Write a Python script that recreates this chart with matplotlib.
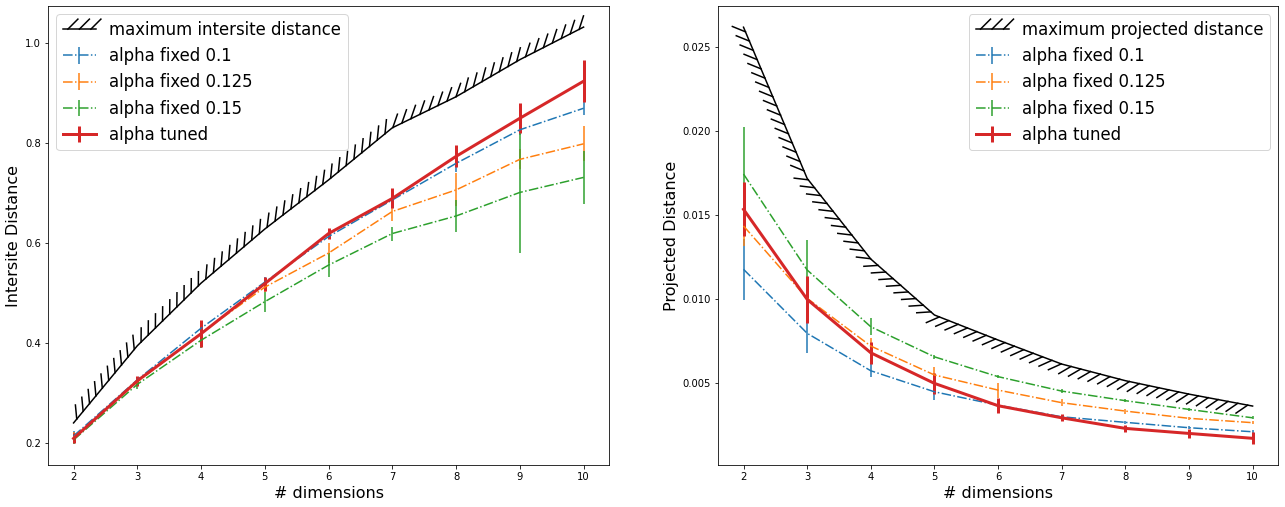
import numpy as np
import matplotlib
matplotlib.use('Agg')
from matplotlib import pyplot as plt
from matplotlib import patheffects

dims = [2, 3, 4, 5, 6, 7, 8, 9, 10]

# left: intersite distance
max_inter = [0.241, 0.395, 0.52, 0.628, 0.726, 0.83, 0.892, 0.966, 1.031]
inter_01 = [0.215, 0.327, 0.43, 0.522, 0.613, 0.686, 0.759, 0.826, 0.869]
inter_01_err = [0.01, 0.005, 0.01, 0.01, 0.005, 0.005, 0.017, 0.01, 0.013]
inter_0125 = [0.212, 0.323, 0.42, 0.512, 0.58, 0.663, 0.706, 0.767, 0.798]
inter_0125_err = [0.01, 0.005, 0.015, 0.01, 0.02, 0.019, 0.033, 0.02, 0.035]
inter_015 = [0.207, 0.318, 0.406, 0.483, 0.556, 0.619, 0.654, 0.701, 0.731]
inter_015_err = [0.008, 0.01, 0.015, 0.02, 0.024, 0.014, 0.032, 0.12, 0.053]
inter_tuned = [0.21, 0.325, 0.419, 0.519, 0.619, 0.689, 0.773, 0.849, 0.923]
inter_tuned_err = [0.01, 0.01, 0.027, 0.014, 0.011, 0.02, 0.022, 0.03, 0.042]

# right: projected distance
max_proj = [0.0262, 0.0172, 0.0124, 0.00907, 0.00758, 0.00615, 0.00516, 0.00436, 0.00365]
proj_01 = [0.01179, 0.00798, 0.00575, 0.0045, 0.0037, 0.00301, 0.00268, 0.00236, 0.00212]
proj_01_err = [0.0018, 0.0012, 0.0004, 0.0005, 0.0001, 0.0001, 0.0001, 0.0001, 0.0001]
proj_0125 = [0.01437, 0.01006, 0.00722, 0.0055, 0.0046, 0.00385, 0.00335, 0.00292, 0.00266]
proj_0125_err = [0.0012, 0.001, 0.0005, 0.0005, 0.00045, 0.0002, 0.00015, 0.0001, 0.0001]
proj_015 = [0.01746, 0.01175, 0.00837, 0.00658, 0.0054, 0.00454, 0.00397, 0.00345, 0.00295]
proj_015_err = [0.0028, 0.0018, 0.0005, 0.0001, 0.0001, 0.0001, 0.0001, 0.0001, 0.0001]
proj_tuned = [0.01536, 0.0100, 0.00682, 0.005, 0.00367, 0.00295, 0.00232, 0.00202, 0.00173]
proj_tuned_err = [0.0016, 0.0014, 0.00066, 0.00064, 0.00045, 0.0002, 0.0002, 0.00025, 0.00035]

labels = ['alpha fixed 0.1', 'alpha fixed 0.125', 'alpha fixed 0.15']


def draw(ax, x, ymax, maxlabel, fixed, fixed_err, tuned, tuned_err, reverse=False):
	xs, ys = (x[::-1], ymax[::-1]) if reverse else (x, ymax)
	ax.plot(xs, ys, color='k', lw=1.5, label=maxlabel,
		path_effects=[patheffects.withTickedStroke()])
	for i, (y, e) in enumerate(zip(fixed, fixed_err)):
		ax.errorbar(x, y, yerr=e, ls='-.', lw=1.5, color='C%d' % i, label=labels[i])
	ax.errorbar(x, tuned, yerr=tuned_err, ls='-', lw=3, elinewidth=3, color='C3', label='alpha tuned')
	ax.set_xlabel('# dimensions', fontsize=16)


fig = plt.figure(figsize=(1285 / 72, 507 / 72), dpi=72)
ax1 = fig.add_axes([0.0374, 0.0828, 0.4366, 0.9053])
ax2 = fig.add_axes([0.5588, 0.0828, 0.4358, 0.9053])

draw(ax1, dims, max_inter, 'maximum intersite distance',
	[inter_01, inter_0125, inter_015], [inter_01_err, inter_0125_err, inter_015_err],
	inter_tuned, inter_tuned_err)
ax1.set_ylabel('Intersite Distance', fontsize=16)
ax1.set_xlim(1.6, 10.4)
ax1.set_ylim(0.157, 1.073)
ax1.legend(loc='upper left', fontsize=16.5)

draw(ax2, dims, max_proj, 'maximum projected distance',
	[proj_01, proj_0125, proj_015], [proj_01_err, proj_0125_err, proj_015_err],
	proj_tuned, proj_tuned_err, reverse=True)
ax2.set_ylabel('Projected Distance', fontsize=16)
ax2.set_xlim(1.6, 10.4)
ax2.set_ylim(0.00014, 0.02746)
ax2.legend(loc='upper right', fontsize=16.5)

fig.savefig('out.png', dpi=72)
